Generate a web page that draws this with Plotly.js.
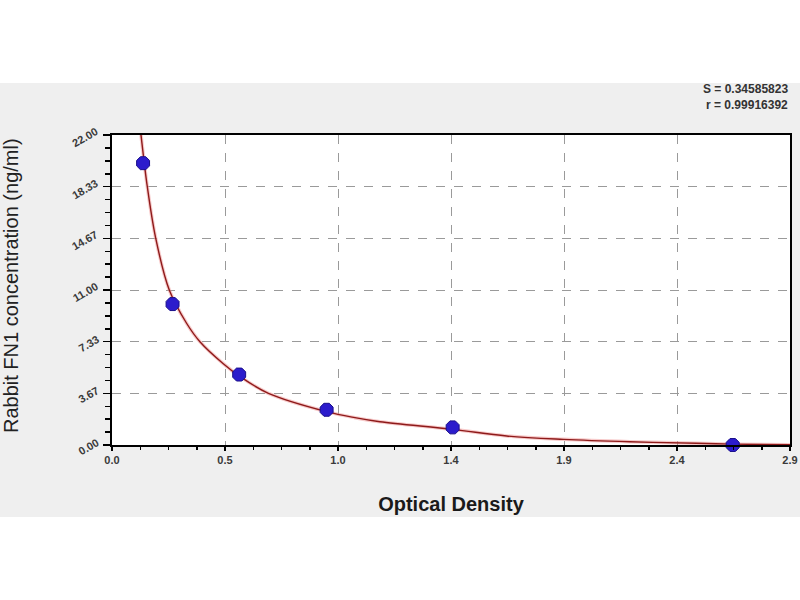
<!DOCTYPE html>
<html>
<head>
<meta charset="utf-8">
<script src="https://cdn.plot.ly/plotly-3.0.1.min.js"></script>
<style>
  html, body { margin: 0; padding: 0; background: #ffffff; }
  #chart { position: absolute; left: 0; top: 83px; width: 800px; height: 434px; }
</style>
</head>
<body>
<div id="chart"></div>
<script>
    // standards (measured OD vs. concentration)
    const standardOD = [0.133, 0.259, 0.544, 0.918, 1.457, 2.655];
    const standardConc = [20.0, 10.0, 5.0, 2.5, 1.25, 0.0];

    // fitted curve
    const curveOD = [0.124, 0.138, 0.151, 0.187, 0.245, 0.319, 0.376, 0.476, 0.544, 0.669, 0.918, 1.039, 1.146, 1.457, 1.688, 1.930, 2.215, 2.500, 2.655, 2.900];
    const curveConc = [22.0, 20.0, 18.33, 14.67, 11.0, 8.64, 7.33, 5.77, 4.9, 3.67, 2.37, 1.94, 1.65, 1.11, 0.64, 0.40, 0.23, 0.12, 0.06, 0.02];

    const xTickLabels = ["0.0", "0.5", "1.0", "1.4", "1.9", "2.4", "2.9"];
    const yTickLabels = ["0.00", "3.67", "7.33", "11.00", "14.67", "18.33", "22.00"];
    const xMax = 2.9;
    const yMax = 22;

    const fitStats = ["S = 0.34585823", "r = 0.99916392"];

    const xTickVals = xTickLabels.map((_, i) => (i * xMax) / (xTickLabels.length - 1));
    const yTickVals = yTickLabels.map((_, i) => (i * yMax) / (yTickLabels.length - 1));

    const tickFont = { family: "Liberation Sans, Arial, sans-serif", size: 11, color: "#3a3a3a", weight: "bold" };

    const traces = [
        {
            x: curveOD,
            y: curveConc,
            type: "scatter",
            mode: "lines",
            line: { color: "rgba(240,150,150,0.5)", width: 3.5, shape: "spline", smoothing: 1 },
            hoverinfo: "skip",
            showlegend: false,
        },
        {
            x: curveOD,
            y: curveConc,
            type: "scatter",
            mode: "lines",
            line: { color: "#8e1a1a", width: 1.4, shape: "spline", smoothing: 1 },
            showlegend: false,
        },
        {
            x: standardOD,
            y: standardConc,
            type: "scatter",
            mode: "markers",
            marker: { symbol: "octagon", size: 14, color: "#2c1ccc", line: { color: "#1a0f8a", width: 1 } },
            cliponaxis: false,
            showlegend: false,
        },
    ];

    const yTickNotes = yTickLabels.map((txt, i) => ({
        xref: "paper",
        yref: "y",
        x: 0,
        y: yTickVals[i],
        xanchor: "right",
        yanchor: "middle",
        xshift: -9,
        yshift: -2,
        textangle: -30,
        showarrow: false,
        text: txt,
        font: tickFont,
    }));

    const statNotes = fitStats.map((txt, i) => ({
        xref: "paper",
        yref: "paper",
        x: 1,
        y: 1,
        xanchor: "right",
        yanchor: "middle",
        yshift: 46 - i * 16,
        showarrow: false,
        text: txt,
        font: { size: 12, color: "#333333", weight: "bold" },
    }));

    const yTitleNote = {
        xref: "paper",
        yref: "paper",
        x: 0,
        y: 0.5,
        xanchor: "center",
        yanchor: "middle",
        xshift: -101,
        yshift: 4,
        textangle: -90,
        showarrow: false,
        text: "Rabbit FN1 concentration (ng/ml)",
        font: { size: 20, color: "#222222" },
    };

    const layout = {
        width: 800,
        height: 434,
        margin: { l: 112, r: 10, t: 52, b: 72 },
        paper_bgcolor: "#efefef",
        plot_bgcolor: "#ffffff",
        font: { family: "Liberation Sans, Arial, sans-serif", color: "#222222" },
        xaxis: {
            range: [0, xMax],
            tickvals: xTickVals,
            ticktext: xTickLabels,
            tickfont: tickFont,
            ticks: "outside",
            ticklen: 4,
            tickwidth: 1.5,
            tickcolor: "#000000",
            minor: { dtick: xMax / 24, ticks: "outside", ticklen: 3, tickcolor: "#000000", showgrid: false },
            showgrid: true,
            gridcolor: "#9a9a9a",
            griddash: "dash",
            gridwidth: 1,
            showline: true,
            linecolor: "#000000",
            linewidth: 2,
            mirror: true,
            zeroline: false,
            title: { text: "Optical Density", font: { size: 20, color: "#1a1a1a", weight: "bold" }, standoff: 32 },
        },
        yaxis: {
            range: [0, yMax],
            tickvals: yTickVals,
            showticklabels: false,
            ticks: "outside",
            ticklen: 7,
            tickwidth: 1.5,
            tickcolor: "#000000",
            minor: { dtick: yMax / 24, ticks: "outside", ticklen: 5, tickcolor: "#000000", showgrid: false },
            showgrid: true,
            gridcolor: "#9a9a9a",
            griddash: "dash",
            gridwidth: 1,
            showline: true,
            linecolor: "#000000",
            linewidth: 2,
            mirror: true,
            zeroline: false,
        },
        annotations: [...yTickNotes, ...statNotes, yTitleNote],
    };

    Plotly.newPlot("chart", traces, layout, { displayModeBar: false, staticPlot: true });
</script>
</body>
</html>
